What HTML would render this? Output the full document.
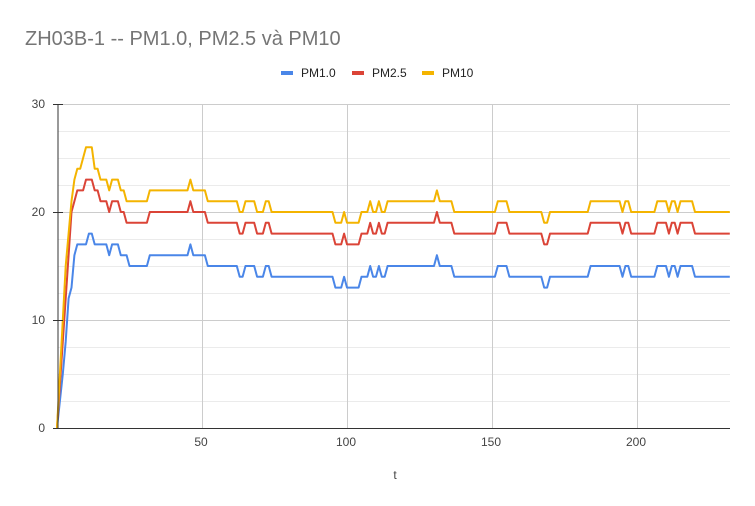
<!DOCTYPE html>
<html><head><meta charset="utf-8"><style>
body{margin:0;background:#fff;width:755px;height:506px;overflow:hidden}
svg{display:block}
text{font-family:"Liberation Sans","Noto Sans CJK SC",sans-serif}
</style></head><body>
<svg id="s" width="755" height="506" xmlns="http://www.w3.org/2000/svg">
<rect width="755" height="506" fill="#fff"/>
<text x="25" y="45" font-size="20" fill="#757575">ZH03B-1 -- PM1.0, PM2.5 và PM10</text>
<rect x="281" y="71" width="12" height="4" fill="#4a86e8"/><text x="301" y="77" font-size="12" fill="#222">PM1.0</text>
<rect x="352" y="71" width="12" height="4" fill="#db4437"/><text x="372" y="77" font-size="12" fill="#222">PM2.5</text>
<rect x="422" y="71" width="12" height="4" fill="#f4b400"/><text x="442" y="77" font-size="12" fill="#222">PM10</text>
<g id="grid"></g>
<g font-size="12" fill="#444">
<text x="45" y="108" text-anchor="end">30</text>
<text x="45" y="216" text-anchor="end">20</text>
<text x="45" y="324" text-anchor="end">10</text>
<text x="45" y="432" text-anchor="end">0</text>
<text x="201" y="446" text-anchor="middle">50</text>
<text x="346" y="446" text-anchor="middle">100</text>
<text x="491" y="446" text-anchor="middle">150</text>
<text x="636" y="446" text-anchor="middle">200</text>
<text x="395" y="479" text-anchor="middle">t</text>
</g>
<g id="lines" fill="none" stroke-width="2" stroke-linejoin="round"></g>
<line x1="58" y1="104" x2="58" y2="428" stroke="#333" stroke-width="1"/>
<line x1="58" y1="428.5" x2="730" y2="428.5" stroke="#333" stroke-width="1"/>
<line x1="53" y1="104.5" x2="63" y2="104.5" stroke="#333"/>
<line x1="53" y1="212.5" x2="63" y2="212.5" stroke="#333"/>
<line x1="53" y1="320.5" x2="63" y2="320.5" stroke="#333"/>
<line x1="53" y1="428.5" x2="63" y2="428.5" stroke="#333"/>
</svg>
<script>
var NS="http://www.w3.org/2000/svg";
function X(t){return 57+t*2.9}
function Y(v){return 428-v*10.8}
var g=document.getElementById('grid'),h='';
for(var i=1;i<=12;i++){var y=Y(i*2.5);var maj=(i%4==0);h+='<line x1="58" x2="730" y1="'+(y+.5)+'" y2="'+(y+.5)+'" stroke="'+(maj?'#ccc':'#ebebeb')+'"/>';}
[50,100,150,200].forEach(function(t){var x=Math.round(X(t))+.5;h+='<line x1="'+x+'" x2="'+x+'" y1="104" y2="428" stroke="#ccc"/>';});
g.innerHTML=h;
var b=[0,2.5,5,8,12,13,16,17,17,17,17,18,18,17,17,17,17,17,16,17,17,17,16,16,16];
var r=[0,4,8,12,16,20,21,22,22,22,23,23,23,22,22,21,21,21,20,21,21,21,20,20,19];
var yl=[0,5,10,15,18,21,23,24,24,25,26,26,26,24,24,23,23,23,22,23,23,23,22,22,21];
var cp={25:15,32:16,46:17,47:16,52:15,63:14,65:15,69:14,72:15,74:14,96:13,99:14,100:13,105:14,108:15,109:14,111:15,112:14,114:15,131:16,132:15,137:14,152:15,156:14,168:13,170:14,184:15,195:14,196:15,198:14,207:15,211:14,212:15,214:14,215:15,220:14};
var cur=15;
for(var t=25;t<=232;t++){if(cp[t]!==undefined)cur=cp[t];b.push(cur);r.push(cur+4);yl.push(cur+6);}
function path(a,c){var d='';for(var i=0;i<a.length;i++){d+=(i?'L':'M')+X(i).toFixed(1)+' '+Y(a[i]).toFixed(1);}
var p=document.createElementNS(NS,'path');p.setAttribute('d',d);p.setAttribute('stroke',c);document.getElementById('lines').appendChild(p);}
path(b,'#4a86e8');path(r,'#db4437');path(yl,'#f4b400');
</script>
</body></html>
